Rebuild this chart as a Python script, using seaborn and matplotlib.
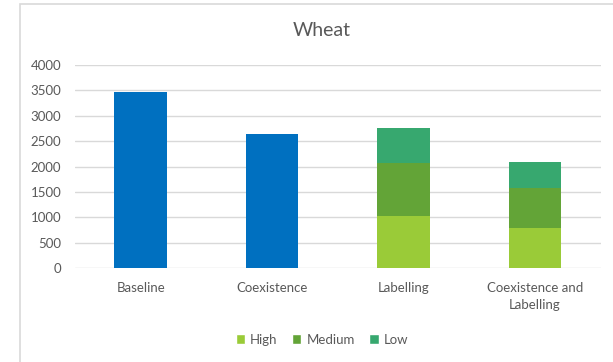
import numpy as np
import pandas as pd
import matplotlib
matplotlib.use("Agg")
import matplotlib.pyplot as plt
from matplotlib.patches import Patch, Rectangle
import seaborn as sns

categories = ["Baseline", "Coexistence", "Labelling", "Coexistence and\nLabelling"]
total_only = [3460, 2640, 0, 0]
high = [0, 0, 1030, 795]
medium = [0, 0, 1035, 785]
low = [0, 0, 700, 515]

y_ticks = [0, 500, 1000, 1500, 2000, 2500, 3000, 3500, 4000]

blue = "#0070C0"
c_high = "#9ACB38"
c_medium = "#63A437"
c_low = "#37A86F"
text_gray = "#595959"
grid_gray = "#D9D9D9"

sns.set_theme(style="white")
plt.rcParams["font.family"] = ["Lato", "DejaVu Sans"]

fig = plt.figure(figsize=(6.13, 3.62), dpi=100)
ax = fig.add_axes([75 / 613, 1 - 268.3 / 362, (600.7 - 75) / 613, (268.3 - 65) / 362])

# stacked segments drawn as cumulative layers, tallest first
cum_low = np.array(high) + np.array(medium) + np.array(low)
cum_med = np.array(high) + np.array(medium)
layers = [
    (total_only, blue),
    (cum_low, c_low),
    (cum_med, c_medium),
    (high, c_high),
]
for vals, col in layers:
    df = pd.DataFrame({"cat": categories, "val": vals})
    sns.barplot(data=df, x="cat", y="val", order=categories, color=col,
                width=0.4, saturation=1, ax=ax, linewidth=0)

ax.set_ylim(0, 4000)
ax.set_xlim(-0.5, 3.5)
ax.set_yticks(y_ticks)
ax.set_yticklabels([str(t) for t in y_ticks])
ax.yaxis.grid(True, color=grid_gray, linewidth=1)
ax.set_axisbelow(True)
for s in ax.spines.values():
    s.set_visible(False)
ax.set_xlabel("")
ax.set_ylabel("")
ax.tick_params(axis="y", length=0, pad=10, labelsize=9.5, labelcolor=text_gray)
ax.tick_params(axis="x", length=0, pad=10, labelsize=9.5, labelcolor=text_gray)
for lbl in ax.get_xticklabels():
    lbl.set_linespacing(1.5)
    lbl.set_verticalalignment("top")

fig.text(322 / 613, 1 - 31 / 362, "Wheat", ha="center", va="center",
         fontsize=14, color=text_gray)

handles = [Patch(facecolor=c_high, label="High"),
           Patch(facecolor=c_medium, label="Medium"),
           Patch(facecolor=c_low, label="Low")]
fig.legend(handles=handles, loc="center", bbox_to_anchor=(322 / 613, 1 - 339.5 / 362),
           ncol=3, frameon=False, fontsize=9.5, labelcolor=text_gray,
           handlelength=0.7, handleheight=0.7, handletextpad=0.4, columnspacing=1.1)

# chart area border
fig.patches.append(Rectangle((19.5 / 613, -0.05), 1.0, 1 - 3.5 / 362 + 0.05,
                             transform=fig.transFigure, fill=False,
                             edgecolor=grid_gray, linewidth=1.2))

fig.savefig("out.png", dpi=100)
